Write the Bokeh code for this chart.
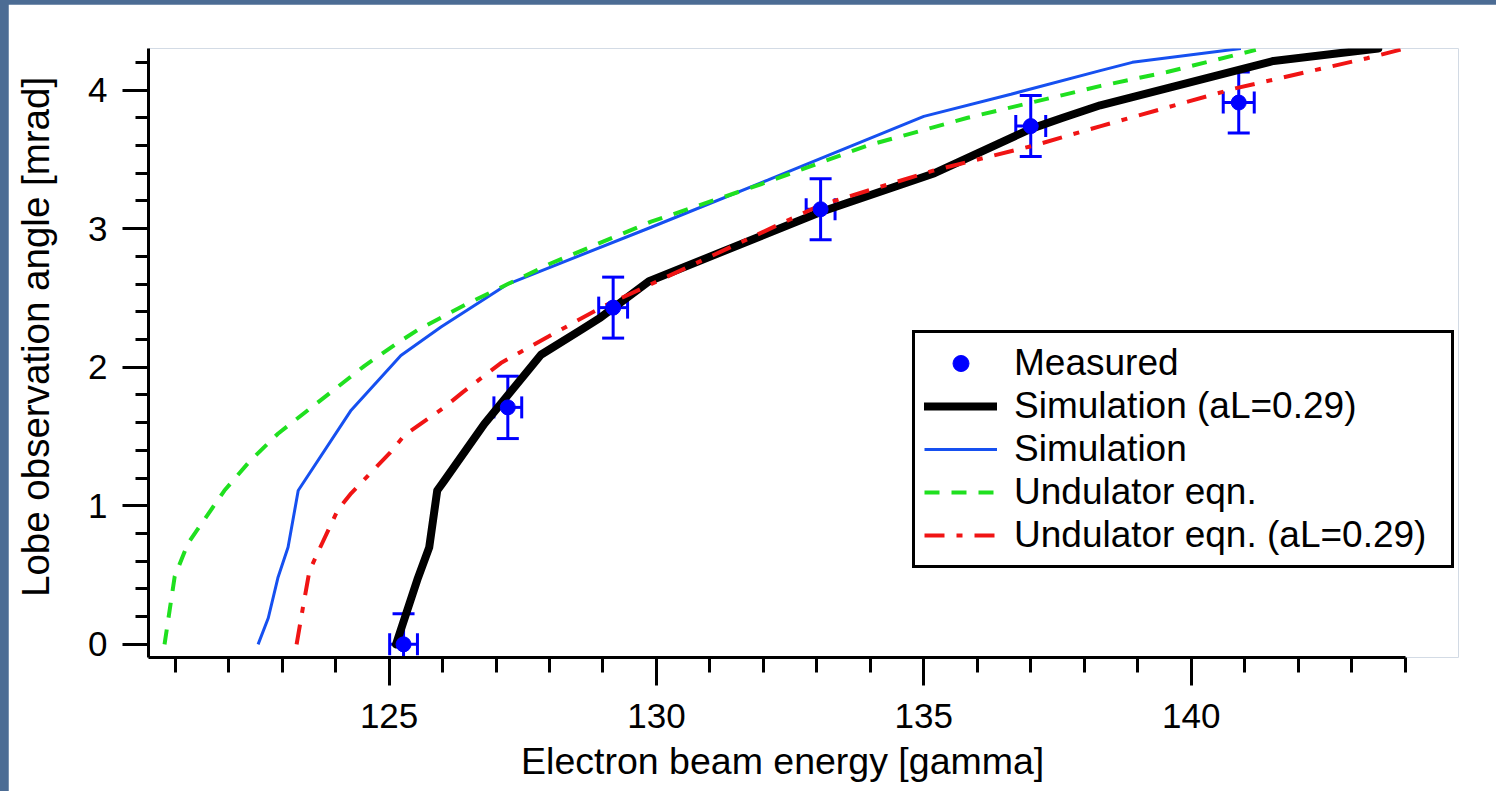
import numpy as np
from bokeh.plotting import figure
from bokeh.models import Range1d, SingleIntervalTicker, Legend, LegendItem
from bokeh.embed import file_html
from bokeh.resources import INLINE

# ---------------- data ----------------
meas_x = [125.27, 127.22, 129.19, 133.07, 137.0, 140.89]
meas_y = [0.0, 1.71, 2.43, 3.14, 3.74, 3.91]
meas_yerr = [0.22, 0.225, 0.22, 0.22, 0.22, 0.22]
meas_xerr = [0.26, 0.26, 0.27, 0.27, 0.28, 0.29]

sim_al_x = [125.13, 125.54, 125.75, 125.9, 126.03, 126.78, 127.84, 128.59, 128.96, 129.86,
            133.07, 135.2, 137.0, 137.6, 138.3, 141.54, 143.5]
sim_al_y = [0.0, 0.48, 0.70, 1.11, 1.18, 1.59, 2.09, 2.27, 2.36, 2.62,
            3.12, 3.40, 3.72, 3.80, 3.89, 4.21, 4.30]

sim_x = [122.55, 122.74, 122.92, 123.11, 123.3, 124.29, 125.22, 125.97, 127.22, 129.9,
         132.08, 135.0, 136.63, 138.3, 138.9, 140.93]
sim_y = [0.0, 0.19, 0.48, 0.70, 1.11, 1.69, 2.085, 2.29, 2.6, 3.01,
         3.35, 3.81, 3.97, 4.14, 4.20, 4.30]

und_x = [120.80, 120.99, 121.24, 121.58, 121.92, 122.39, 122.92, 123.45, 123.98, 124.54,
         125.1, 125.54, 126.47, 127.22, 128.03, 129.9, 131.95, 133.95, 135.82, 138.31,
         139.55, 141.21]
und_y = [0.0, 0.49, 0.73, 0.92, 1.11, 1.32, 1.52, 1.68, 1.84, 2.01,
         2.16, 2.27, 2.46, 2.60, 2.75, 3.05, 3.32, 3.60, 3.80, 4.03,
         4.13, 4.29]

und_al_x = [123.27, 123.39, 123.51, 123.70, 124.04, 124.29, 125.01, 125.29, 126.03, 126.38,
            127.09, 127.46, 128.21, 128.96, 133.07, 135.19, 137.06, 138.31, 140.8, 143.29, 144.0]
und_al_y = [0.0, 0.27, 0.53, 0.69, 0.97, 1.09, 1.38, 1.51, 1.71, 1.82,
            2.03, 2.11, 2.27, 2.43, 3.17, 3.42, 3.60, 3.74, 4.01, 4.23, 4.30]

labels = ["Measured", "Simulation (aL=0.29)", "Simulation", "Undulator eqn.",
          "Undulator eqn. (aL=0.29)"]
x_title = "Electron beam energy [gamma]"
y_title = "Lobe observation angle [mrad]"

FONT = "Liberation Sans"
BLUE_PT = "#0000ff"
BLUE_LN = "#1650f0"
GREEN = "#1fe01f"
RED = "#f01414"
NBSP = "\u00a0"

# ---------------- figure ----------------
p = figure(width=1488, height=787, output_backend="svg", toolbar_location=None,
           x_range=Range1d(120.5, 145.0), y_range=Range1d(-0.095, 4.30),
           min_border_left=140, min_border_right=38, min_border_top=44,
           min_border_bottom=134)
p.margin = (4, 0, 0, 8)
p.outline_line_color = None
p.xgrid.visible = False
p.ygrid.visible = False
p.background_fill_color = "white"
p.border_fill_color = "white"

p.xaxis.ticker = SingleIntervalTicker(interval=5, num_minor_ticks=5)
p.yaxis.ticker = SingleIntervalTicker(interval=1, num_minor_ticks=5)
p.xaxis.bounds = (120.5, 144.0)
for ax in (p.xaxis, p.yaxis):
    ax.axis_line_width = 3
    ax.axis_line_color = "black"
    ax.major_tick_line_width = 3
    ax.minor_tick_line_width = 3
    ax.major_tick_line_color = "black"
    ax.minor_tick_line_color = "black"
    ax.major_tick_in = 0
    ax.minor_tick_in = 0
    ax.major_label_text_font = FONT
    ax.major_label_text_font_size = "35px"
    ax.major_label_text_color = "black"
    ax.axis_label_text_font = FONT
    ax.axis_label_text_font_style = "normal"
    ax.axis_label_text_color = "black"
p.xaxis.major_tick_out = 28
p.xaxis.minor_tick_out = 15
p.yaxis.major_tick_out = 26
p.yaxis.minor_tick_out = 13
p.xaxis.major_label_standoff = 18
p.yaxis.major_label_standoff = 15
# the original titles sit slightly off the frame centre: pad with no-break spaces
p.xaxis.axis_label = x_title + NBSP * 4
p.yaxis.axis_label = NBSP * 3 + y_title
p.xaxis.axis_label_text_font_size = "37.5px"
p.yaxis.axis_label_text_font_size = "38.5px"
p.xaxis.axis_label_standoff = 9
p.yaxis.axis_label_standoff = 28

# ---------------- error bars ----------------
mx = np.array(meas_x); my = np.array(meas_y)
ye = np.array(meas_yerr); xe = np.array(meas_xerr)
p.segment(x0=mx, y0=my - ye, x1=mx, y1=my + ye, line_color=BLUE_PT, line_width=3)
p.segment(x0=mx - xe, y0=my, x1=mx + xe, y1=my, line_color=BLUE_PT, line_width=3)
p.scatter(x=np.concatenate([mx, mx]), y=np.concatenate([my - ye, my + ye]),
          marker="dash", size=22, line_width=3, line_color=BLUE_PT)
p.scatter(x=np.concatenate([mx - xe, mx + xe]), y=np.concatenate([my, my]),
          marker="dash", size=22, angle=np.pi / 2, line_width=3, line_color=BLUE_PT)

# ---------------- curves ----------------
r_sim = p.line(sim_x, sim_y, line_color=BLUE_LN, line_width=3)
r_und = p.line(und_x, und_y, line_color=GREEN, line_width=4, line_dash="15 12")
r_simal = p.line(sim_al_x, sim_al_y, line_color="black", line_width=8, line_join="round",
                 line_cap="round")
r_undal = p.line(und_al_x, und_al_y, line_color=RED, line_width=4, line_dash="20 12 6 12")
r_meas = p.scatter(meas_x, meas_y, marker="circle", size=15, fill_color=BLUE_PT,
                   line_color=BLUE_PT)

legend = Legend(items=[
    LegendItem(label=labels[0], renderers=[r_meas]),
    LegendItem(label=labels[1], renderers=[r_simal]),
    LegendItem(label=labels[2], renderers=[r_sim]),
    LegendItem(label=labels[3], renderers=[r_und]),
    LegendItem(label=labels[4], renderers=[r_undal]),
], location=(764, 89))
legend.border_line_color = "black"
legend.border_line_alpha = 1.0
legend.border_line_width = 3
legend.background_fill_color = "white"
legend.background_fill_alpha = 1.0
legend.label_text_font = FONT
legend.label_text_font_size = "37px"
legend.label_text_color = "black"
legend.glyph_width = 73
legend.glyph_height = 40
legend.label_height = 40
legend.label_width = 428
legend.label_standoff = 17
legend.padding = 9
legend.spacing = 1
legend.margin = 0
p.add_layout(legend, "center")

html = file_html(p, INLINE, title="chart")
html = html.replace("<head>", "<head><style>html,body{margin:0;background:#4c6c94;}</style>", 1)
open("out.html", "w").write(html)
